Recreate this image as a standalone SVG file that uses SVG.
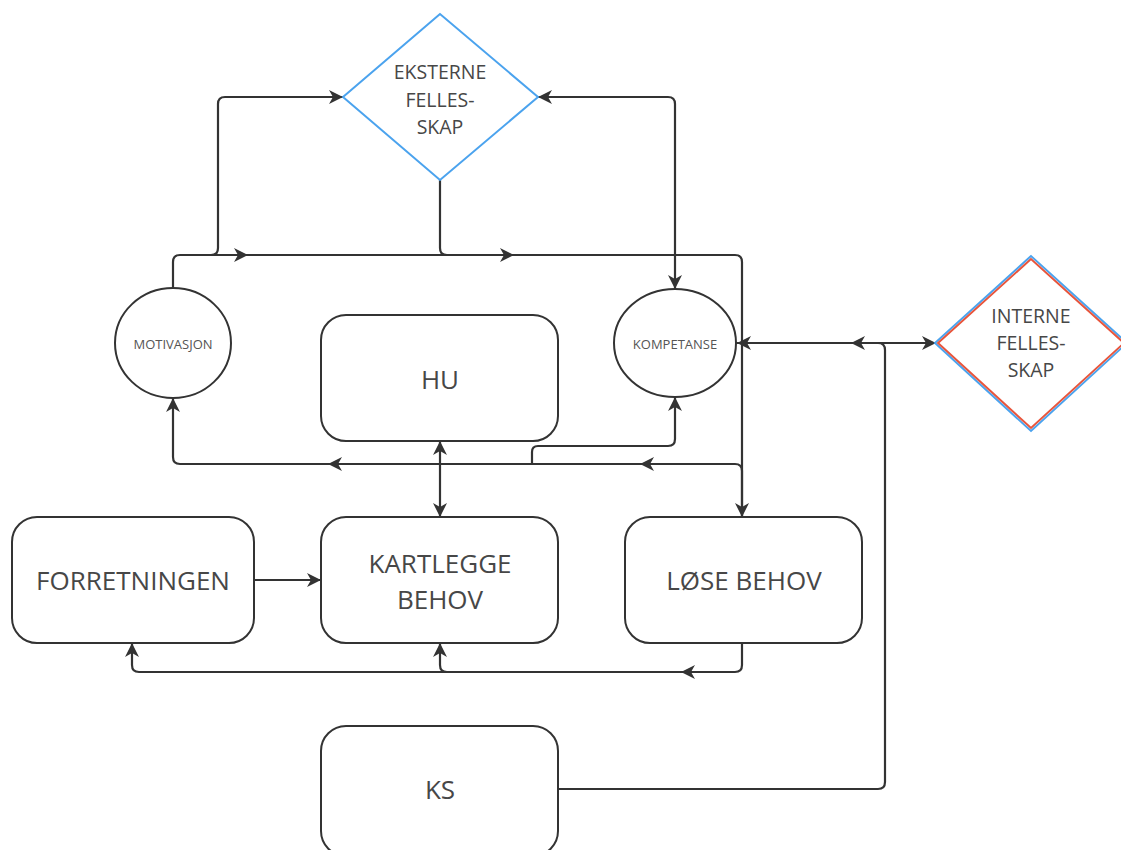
<svg xmlns="http://www.w3.org/2000/svg" width="1121" height="850" viewBox="0 0 1121 850">
  <defs>
    <!-- arrowhead, tip at origin, pointing along +x -->
    <path id="ah" d="M0,0 L-14,-7 L-10,0 L-14,7 Z" fill="#333"/>
    <style>
      .box { fill: #fff; stroke: #333; stroke-width: 2; }
      .wire { fill: none; stroke: #333; stroke-width: 2.2; stroke-linejoin: round; }
      .lbl { font-family: "Open Sans", "Liberation Sans", sans-serif; font-weight: 400; fill: #474747; text-anchor: middle; }
      .big { font-size: 26px; }
      .mid { font-size: 19.5px; }
      .small { font-size: 13px; fill: #555; }
    </style>
  </defs>
  <rect width="1121" height="850" fill="#fff"/>

  <!-- connectors -->
  <g id="connectors">
    <!-- MOTIVASJON along the top rail to LØSE BEHOV -->
    <path class="wire" d="M173,288 V262 Q173,255 180,255 H735 Q742,255 742,262 V517"/>
    <!-- rail up to EKSTERNE FELLESSKAP -->
    <path class="wire" d="M211,255 Q218,255 218,248 V104 Q218,97 225,97 H343"/>
    <!-- EKSTERNE FELLESSKAP down onto the rail -->
    <path class="wire" d="M440,180 V248 Q440,255 447,255"/>
    <!-- EKSTERNE FELLESSKAP <-> KOMPETANSE -->
    <path class="wire" d="M538,97 H668 Q675,97 675,104 V289"/>
    <!-- KOMPETANSE <-> INTERNE FELLESSKAP -->
    <path class="wire" d="M736,343 H936"/>
    <!-- KS to the internal link -->
    <path class="wire" d="M557,789 H878 Q885,789 885,782 V350 Q885,343 878,343 H850"/>
    <!-- HU <-> KARTLEGGE BEHOV -->
    <path class="wire" d="M440,441 V517"/>
    <!-- LØSE BEHOV back to MOTIVASJON -->
    <path class="wire" d="M742,517 V471 Q742,464 735,464 H180 Q173,464 173,457 V398"/>
    <!-- branch to KOMPETANSE -->
    <path class="wire" d="M532,464 V452 Q532,446 538,446 H668 Q675,446 675,439 V397"/>
    <!-- FORRETNINGEN -> KARTLEGGE BEHOV -->
    <path class="wire" d="M254,580 H321"/>
    <!-- LØSE BEHOV back along the bottom -->
    <path class="wire" d="M742,643 V665 Q742,672 735,672 H139 Q132,672 132,665 V643"/>
    <path class="wire" d="M447,672 Q440,672 440,665 V643"/>

    <!-- arrowheads -->
    <use href="#ah" transform="translate(248,255)"/>
    <use href="#ah" transform="translate(514,255)"/>
    <use href="#ah" transform="translate(742,517) rotate(90)"/>
    <use href="#ah" transform="translate(343,97)"/>
    <use href="#ah" transform="translate(538,97) rotate(180)"/>
    <use href="#ah" transform="translate(675,289) rotate(90)"/>
    <use href="#ah" transform="translate(737,343) rotate(180)"/>
    <use href="#ah" transform="translate(936,343)"/>
    <use href="#ah" transform="translate(851,343) rotate(180)"/>
    <use href="#ah" transform="translate(440,441) rotate(-90)"/>
    <use href="#ah" transform="translate(440,517) rotate(90)"/>
    <use href="#ah" transform="translate(640,464) rotate(180)"/>
    <use href="#ah" transform="translate(328,464) rotate(180)"/>
    <use href="#ah" transform="translate(173,398) rotate(-90)"/>
    <use href="#ah" transform="translate(675,397) rotate(-90)"/>
    <use href="#ah" transform="translate(321,580)"/>
    <use href="#ah" transform="translate(681,672) rotate(180)"/>
    <use href="#ah" transform="translate(440,643) rotate(-90)"/>
    <use href="#ah" transform="translate(132,643) rotate(-90)"/>
  </g>

  <g id="eksterne">
    <polygon points="440,14 343,97 440,180 538,97" fill="#fff" stroke="#4ba3ee" stroke-width="2"/>
    <text class="lbl mid" x="440" y="79">EKSTERNE</text>
    <text class="lbl mid" x="440" y="107">FELLES-</text>
    <text class="lbl mid" x="440" y="134">SKAP</text>
  </g>

  <g id="interne">
    <polygon points="1031,256 935,343 1031,431 1127,343" fill="#fff" stroke="#4ba3ee" stroke-width="2"/>
    <polygon points="1031,259 938,343 1031,428 1124,343" fill="none" stroke="#e8553c" stroke-width="2"/>
    <text class="lbl mid" x="1031" y="323">INTERNE</text>
    <text class="lbl mid" x="1031" y="350">FELLES-</text>
    <text class="lbl mid" x="1031" y="377">SKAP</text>
  </g>

  <g id="motivasjon">
    <ellipse class="box" cx="173" cy="343" rx="58" ry="55"/>
    <text class="lbl small" x="173" y="349">MOTIVASJON</text>
  </g>

  <g id="kompetanse">
    <ellipse class="box" cx="675" cy="343" rx="61" ry="54"/>
    <text class="lbl small" x="675" y="349">KOMPETANSE</text>
  </g>

  <g id="hu">
    <rect class="box" x="321" y="315" width="237" height="126" rx="25"/>
    <text class="lbl big" x="440" y="389">HU</text>
  </g>

  <g id="forretningen">
    <rect class="box" x="12" y="517" width="242" height="126" rx="25"/>
    <text class="lbl big" x="133" y="590">FORRETNINGEN</text>
  </g>

  <g id="kartlegge">
    <rect class="box" x="321" y="517" width="237" height="126" rx="25"/>
    <text class="lbl big" x="440" y="573">KARTLEGGE</text>
    <text class="lbl big" x="440" y="609">BEHOV</text>
  </g>

  <g id="lose">
    <rect class="box" x="625" y="517" width="237" height="126" rx="25"/>
    <text class="lbl big" x="744" y="590">LØSE BEHOV</text>
  </g>

  <g id="ks">
    <rect class="box" x="321" y="726" width="237" height="130" rx="25"/>
    <text class="lbl big" x="440" y="799">KS</text>
  </g>
</svg>
